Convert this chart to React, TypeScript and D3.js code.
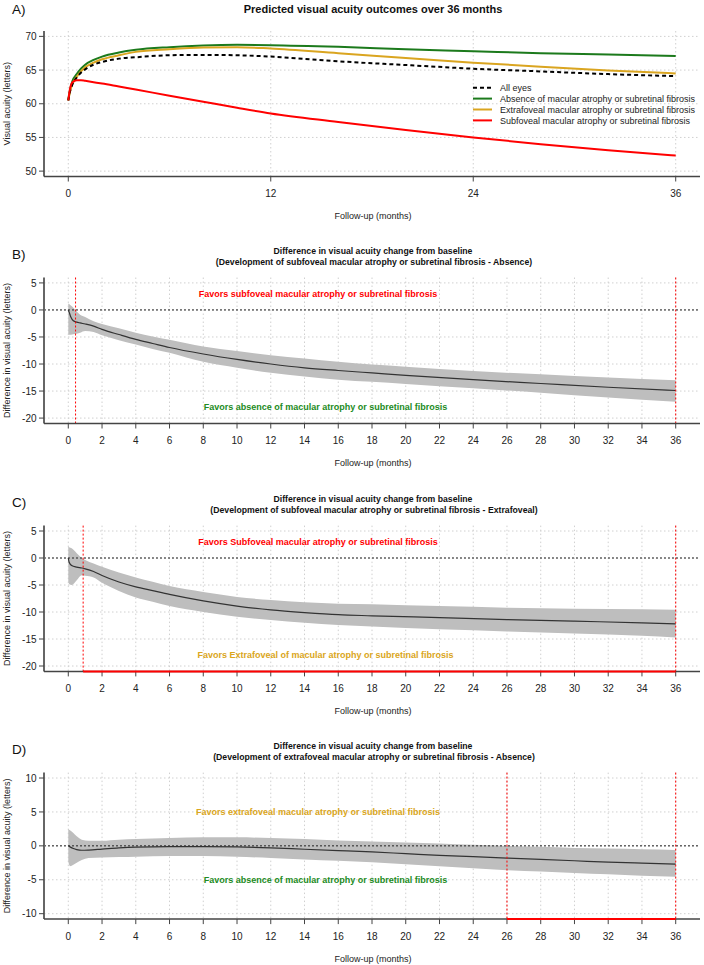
import React from "react";
import * as d3 from "d3";

const FONT = "'Liberation Sans', Arial, Helvetica, sans-serif";

// ---------------- Panel A data ----------------
const monthsA = [0, 0.1, 0.25, 0.5, 0.75, 1, 1.5, 2, 3, 4, 6, 8, 10, 12, 16, 20, 24, 28, 32, 36];
const allEyesVA = [60.5, 61.8, 62.9, 63.9, 64.6, 65.1, 65.8, 66.2, 66.7, 66.9, 67.2, 67.25, 67.2, 67.0, 66.3, 65.75, 65.2, 64.8, 64.4, 64.1];
const absenceVA = [60.5, 62.0, 63.4, 64.4, 65.2, 65.8, 66.5, 67.0, 67.6, 68.0, 68.4, 68.65, 68.75, 68.7, 68.45, 68.1, 67.8, 67.5, 67.3, 67.1];
const extrafovealVA = [60.5, 61.8, 63.0, 64.0, 64.8, 65.4, 66.1, 66.6, 67.2, 67.7, 68.1, 68.35, 68.4, 68.2, 67.5, 66.8, 66.1, 65.5, 64.95, 64.5];
const subfovealVA = [60.5, 62.2, 63.2, 63.5, 63.5, 63.4, 63.2, 63.0, 62.55, 62.1, 61.2, 60.3, 59.4, 58.55, 57.3, 56.1, 55.0, 54.0, 53.1, 52.3];

const legendLabels = [
  "All eyes",
  "Absence of macular atrophy or subretinal fibrosis",
  "Extrafoveal macular atrophy or subretinal fibrosis",
  "Subfoveal macular atrophy or subretinal fibrosis",
];
const seriesColors = ["#000000", "#1c7a1c", "#DAA520", "#FF0000"];
const ticksA_x = [0, 12, 24, 36];
const ticksA_y = [50, 55, 60, 65, 70];

// ---------------- Panel B data ----------------
const monthsB = [0, 0.05, 0.15, 0.3, 0.5, 0.7, 1, 1.5, 2, 3, 4, 5, 6, 8, 10, 12, 14, 16, 18, 20, 24, 28, 32, 36];
const estB = [0, -0.4, -1.3, -2.0, -2.25, -2.4, -2.6, -3.0, -3.6, -4.55, -5.45, -6.2, -6.95, -8.15, -9.15, -10.0, -10.7, -11.2, -11.65, -12.1, -12.9, -13.6, -14.3, -14.9];
const upperB = [1.2, 1.1, 0.8, 0.4, -0.3, -0.9, -1.3, -2.1, -2.6, -3.4, -4.2, -4.9, -5.5, -6.75, -7.6, -8.4, -9.0, -9.6, -10.1, -10.5, -11.3, -11.9, -12.5, -13.0];
const lowerB = [-4.5, -4.6, -4.6, -4.5, -4.4, -4.2, -3.9, -4.1, -4.7, -5.6, -6.4, -7.2, -7.9, -9.6, -10.7, -11.6, -12.3, -12.9, -13.3, -13.7, -14.5, -15.3, -16.2, -17.0];

// ---------------- Panel C data ----------------
const monthsC = [0, 0.05, 0.2, 0.5, 0.8, 1, 1.5, 2, 3, 4, 5, 6, 8, 10, 12, 14, 16, 18, 22, 26, 30, 34, 36];
const estC = [0, -0.8, -1.4, -1.7, -1.85, -2.0, -2.5, -3.25, -4.45, -5.35, -6.05, -6.75, -7.95, -8.9, -9.6, -10.1, -10.5, -10.7, -11.05, -11.4, -11.7, -12.0, -12.2];
const upperC = [2.1, 2.0, 1.8, 0.9, 0.0, -0.35, -1.0, -1.6, -2.7, -3.6, -4.4, -5.2, -6.3, -7.2, -7.8, -8.2, -8.45, -8.55, -8.9, -9.2, -9.4, -9.5, -9.6];
const lowerC = [-4.4, -4.8, -5.0, -4.1, -3.2, -3.3, -3.6, -4.6, -6.1, -7.3, -8.1, -8.9, -10.0, -10.9, -11.5, -12.0, -12.4, -12.7, -13.2, -13.6, -14.0, -14.4, -14.7];

// ---------------- Panel D data ----------------
const monthsD = [0, 0.1, 0.3, 0.5, 0.8, 1.2, 2, 3, 4, 6, 8, 10, 12, 14, 16, 18, 20, 22, 24, 26, 28, 30, 32, 34, 36];
const estD = [0, -0.15, -0.4, -0.55, -0.65, -0.62, -0.48, -0.3, -0.18, -0.1, -0.1, -0.15, -0.3, -0.5, -0.7, -0.9, -1.15, -1.4, -1.6, -1.8, -2.0, -2.2, -2.4, -2.55, -2.7];
const upperD = [2.5, 2.3, 1.9, 1.4, 0.9, 0.75, 0.75, 0.9, 1.0, 1.15, 1.25, 1.25, 1.15, 1.0, 0.8, 0.65, 0.5, 0.35, 0.15, -0.02, -0.15, -0.3, -0.4, -0.5, -0.6];
const lowerD = [-2.3, -3.0, -2.8, -2.5, -2.1, -1.8, -1.7, -1.65, -1.6, -1.5, -1.5, -1.6, -1.8, -2.0, -2.2, -2.4, -2.7, -3.0, -3.3, -3.6, -3.8, -4.0, -4.2, -4.4, -4.55];

const diffTicksX = d3.range(0, 37, 2);
const ticksBC_y = [5, 0, -5, -10, -15, -20];
const ticksD_y = [10, 5, 0, -5, -10];

const subtitleLine1 = "Difference in visual acuity change from baseline";
const subtitlesLine2 = [
  "(Development of subfoveal macular atrophy or subretinal fibrosis - Absence)",
  "(Development of subfoveal macular atrophy or subretinal fibrosis - Extrafoveal)",
  "(Development of extrafoveal macular atrophy or subretinal fibrosis - Absence)",
];
const favorTopTexts = [
  "Favors subfoveal macular atrophy or subretinal fibrosis",
  "Favors Subfoveal macular atrophy or subretinal fibrosis",
  "Favors extrafoveal macular atrophy or subretinal fibrosis",
];
const favorBottomTexts = [
  "Favors absence of macular atrophy or subretinal fibrosis",
  "Favors Extrafoveal of macular atrophy or subretinal fibrosis",
  "Favors absence of macular atrophy or subretinal fibrosis",
];
const favorTopColors = ["#FF0000", "#FF0000", "#DAA520"];
const favorBottomColors = ["#228B22", "#DAA520", "#228B22"];
const favorTopY = [3, 3, 5];
const favorBottomY = [-18, -18, -5];
const sigDotted = [[0.43, 36], [0.88, 36], [26, 36]];
const sigSegment: (number[] | null)[] = [null, [0.88, 36], [26, 36]];

// ---------------- layout ----------------
const X_DOMAIN: [number, number] = [-1.44, 37.44];
const X_RANGE: [number, number] = [44, 700];
const x = d3.scaleLinear().domain(X_DOMAIN).range(X_RANGE);

type Frame = { top: number; bottom: number; yDomain: [number, number] };

function Axes({ frame, xTicks, yTicks, yLabel, y }: any) {
  const { top, bottom } = frame;
  return (
    <g>
      {xTicks.map((t: number) => (
        <line key={"gx" + t} x1={x(t)} x2={x(t)} y1={top} y2={bottom} stroke="#d0d0d0" strokeWidth={1} strokeDasharray="1.5,2.5" />
      ))}
      {yTicks.map((t: number) => (
        <line key={"gy" + t} x1={X_RANGE[0]} x2={X_RANGE[1]} y1={y(t)} y2={y(t)} stroke="#d0d0d0" strokeWidth={1} strokeDasharray="1.5,2.5" />
      ))}
    </g>
  );
}

function AxisLines({ frame, xTicks, yTicks, yLabel, y }: any) {
  const { top, bottom } = frame;
  return (
    <g fontFamily={FONT}>
      <line x1={X_RANGE[0]} x2={X_RANGE[0]} y1={top} y2={bottom} stroke="#666" strokeWidth={2} />
      <line x1={X_RANGE[0]} x2={X_RANGE[1]} y1={bottom} y2={bottom} stroke="#444" strokeWidth={1.5} />
      {yTicks.map((t: number) => (
        <g key={"ty" + t}>
          <line x1={X_RANGE[0] - 5} x2={X_RANGE[0]} y1={y(t)} y2={y(t)} stroke="#444" strokeWidth={1} />
          <text x={36.5} y={y(t) + 3.6} textAnchor="end" fontSize={10} fill="#222">{t}</text>
        </g>
      ))}
      {xTicks.map((t: number) => (
        <g key={"tx" + t}>
          <line x1={x(t)} x2={x(t)} y1={bottom} y2={bottom + 5} stroke="#444" strokeWidth={1} />
          <text x={x(t)} y={bottom + 20.5} textAnchor="middle" fontSize={10} fill="#222">{t}</text>
        </g>
      ))}
      <text x={373} y={bottom + 42.5} textAnchor="middle" fontSize={9} fill="#222">Follow-up (months)</text>
      <text transform={`translate(9.5, ${(top + bottom) / 2}) rotate(-90)`} textAnchor="middle" fontSize={9} fill="#222">{yLabel}</text>
    </g>
  );
}

function PanelA() {
  const frame: Frame = { top: 31, bottom: 176.5, yDomain: [49.2, 70.8] };
  const y = d3.scaleLinear().domain(frame.yDomain).range([frame.bottom, frame.top]);
  const line = d3.line<number>().x((_, i) => x(monthsA[i])).y((d) => y(d)).curve(d3.curveMonotoneX);
  const series = [allEyesVA, absenceVA, extrafovealVA, subfovealVA];
  const drawOrder = [1, 2, 0, 3];
  const legendRows = [87.7, 98.6, 109.5, 120.4];
  return (
    <g>
      <text x={12} y={13.5} fontSize={13.5} fontFamily={FONT} fill="#111">A)</text>
      <text x={373} y={12.5} textAnchor="middle" fontSize={11} fontWeight="bold" fontFamily={FONT} fill="#111">
        Predicted visual acuity outcomes over 36 months
      </text>
      <Axes frame={frame} xTicks={ticksA_x} yTicks={ticksA_y} y={y} />
      {drawOrder.map((k) => (
        <path key={k} d={line(series[k]) || ""} fill="none" stroke={seriesColors[k]} strokeWidth={2}
          strokeDasharray={k === 0 ? "4,3" : undefined} />
      ))}
      <AxisLines frame={frame} xTicks={ticksA_x} yTicks={ticksA_y} y={y} yLabel="Visual acuity (letters)" />
      <g fontFamily={FONT}>
        {legendLabels.map((lab, i) => (
          <g key={lab}>
            <line x1={473} x2={492} y1={legendRows[i]} y2={legendRows[i]} stroke={seriesColors[i]} strokeWidth={2}
              strokeDasharray={i === 0 ? "4,3" : undefined} />
            <text x={500} y={legendRows[i] + 3.2} fontSize={9} fill="#222">{lab}</text>
          </g>
        ))}
      </g>
    </g>
  );
}

function DiffPanel({ idx, letter, frame, months, est, lower, upper, yTicks }: any) {
  const y = d3.scaleLinear().domain(frame.yDomain).range([frame.bottom, frame.top]);
  const area = d3.area<number>()
    .x((_, i) => x(months[i]))
    .y0((_, i) => y(lower[i]))
    .y1((_, i) => y(upper[i]))
    .curve(d3.curveMonotoneX);
  const line = d3.line<number>().x((_, i) => x(months[i])).y((d) => y(d)).curve(d3.curveMonotoneX);
  const titleTop = frame.top - 23.5;
  const seg = sigSegment[idx];
  return (
    <g>
      <text x={12} y={titleTop + 5} fontSize={13.5} fontFamily={FONT} fill="#111">{letter}</text>
      <text x={373} y={titleTop} textAnchor="middle" fontSize={8.7} fontWeight="bold" fontFamily={FONT} fill="#111">{subtitleLine1}</text>
      <text x={374} y={titleTop + 11} textAnchor="middle" fontSize={8.7} fontWeight="bold" fontFamily={FONT} fill="#111">{subtitlesLine2[idx]}</text>
      <Axes frame={frame} xTicks={diffTicksX} yTicks={yTicks} y={y} />
      <path d={area(months) || ""} fill="#bebebe" stroke="none" />
      <line x1={X_RANGE[0]} x2={X_RANGE[1]} y1={y(0)} y2={y(0)} stroke="#222" strokeWidth={1} strokeDasharray="2,2" />
      <path d={line(est) || ""} fill="none" stroke="#333" strokeWidth={1.2} />
      {sigDotted[idx].map((m: number, i: number) => (
        <line key={"sd" + i} x1={x(m)} x2={x(m)} y1={frame.top} y2={frame.bottom} stroke="#FF0000" strokeWidth={1} strokeDasharray="2,2" />
      ))}
      <text x={x(14.8)} y={y(favorTopY[idx]) + 3.2} textAnchor="middle" fontSize={9} fontWeight="bold" fontFamily={FONT} fill={favorTopColors[idx]}>
        {favorTopTexts[idx]}
      </text>
      <text x={x(15.25)} y={y(favorBottomY[idx]) + 3.2} textAnchor="middle" fontSize={9} fontWeight="bold" fontFamily={FONT} fill={favorBottomColors[idx]}>
        {favorBottomTexts[idx]}
      </text>
      <AxisLines frame={frame} xTicks={diffTicksX} yTicks={yTicks} y={y} yLabel="Difference in visual acuity (letters)" />
      {seg && (
        <line x1={x(seg[0])} x2={x(seg[1])} y1={frame.bottom} y2={frame.bottom} stroke="#FF0000" strokeWidth={2} />
      )}
    </g>
  );
}

export default function App() {
  return (
    <svg width={704} height={965} viewBox="0 0 704 965"
      style={{ position: "absolute", left: 0, top: 0, background: "#fff", display: "block" }}>
      <rect x={0} y={0} width={704} height={965} fill="#fff" />
      <PanelA />
      <DiffPanel idx={0} letter="B)" frame={{ top: 277.5, bottom: 423.5, yDomain: [-21, 6] }}
        months={monthsB} est={estB} lower={lowerB} upper={upperB} yTicks={ticksBC_y} />
      <DiffPanel idx={1} letter="C)" frame={{ top: 525.6, bottom: 671.4, yDomain: [-21, 6] }}
        months={monthsC} est={estC} lower={lowerC} upper={upperC} yTicks={ticksBC_y} />
      <DiffPanel idx={2} letter="D)" frame={{ top: 772.6, bottom: 919.1, yDomain: [-10.8, 10.8] }}
        months={monthsD} est={estD} lower={lowerD} upper={upperD} yTicks={ticksD_y} />
    </svg>
  );
}
